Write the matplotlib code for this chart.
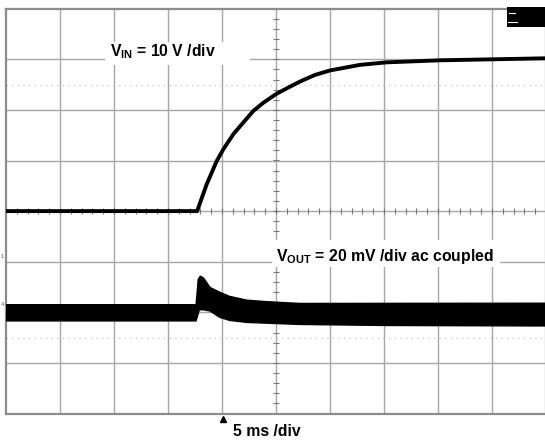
import numpy as np
import matplotlib
matplotlib.use("Agg")
import matplotlib.pyplot as plt
from matplotlib.patches import Rectangle

plt.rcParams['font.family'] = ['Liberation Sans', 'DejaVu Sans']
plt.rcParams['mathtext.fontset'] = 'custom'
plt.rcParams['mathtext.rm'] = 'Liberation Sans'
plt.rcParams['mathtext.bf'] = 'Liberation Sans:bold'

# scope settings
ms_per_div = 5.0
vin_per_div = 10.0      # V/div
vout_per_div = 20.0     # mV/div
vout_offset = -2.0      # div, channel 4 position

# VIN trace (ms, V)
vin_t = [0, 17.7, 18.58, 19.51, 20.12, 21.05, 21.97, 22.9, 23.82, 25.06,
         26.3, 27.22, 28.6, 30.0, 32.78, 35.25, 40.19, 45.09, 50.0]
vin_v = [0, 0, 5.3, 9.9, 12.2, 15.2, 17.5, 19.8, 21.4, 23.2,
         24.6, 25.6, 26.9, 27.8, 28.9, 29.4, 29.8, 30.0, 30.2]

# VOUT noise band envelopes (ms, mV)
vout_up_t = [0, 17.6, 17.8, 18.0, 18.3, 18.9, 19.8, 20.7, 22.3, 23.8, 25.4, 27.2, 50.0]
vout_up = [3.0, 3.0, 13.0, 14.3, 13.5, 9.8, 7.9, 6.3, 4.8, 4.3, 3.9, 3.5, 3.6]
vout_lo_t = [0, 17.6, 17.9, 18.3, 18.9, 19.8, 20.7, 22.3, 27.2, 35.0, 50.0]
vout_lo = [-3.4, -3.4, 1.0, 1.0, 0.5, -2.0, -3.2, -4.0, -4.8, -5.2, -5.4]

fig = plt.figure(figsize=(5.45, 4.43), dpi=100)
ax = fig.add_axes([6 / 545, 29.5 / 443, 540 / 545, 404.8 / 443])
ax.set_xlim(0, 10)
ax.set_ylim(-4, 4)
ax.set_xticks([])
ax.set_yticks([])

grid_c = '#a6a6a6'
for i in range(1, 10):
    ax.axvline(i, color=grid_c, lw=1.0, zorder=1)
for j in range(-3, 4):
    ax.axhline(j, color=grid_c, lw=1.0, zorder=1)
for s in ax.spines.values():
    s.set_color('#8c8c8c')
    s.set_linewidth(1.6)

# centre graticule ticks
minor = np.arange(0, 10.01, 0.2)
ax.vlines(minor, -0.055, 0.055, color='#777777', lw=0.8, zorder=1)
minor_y = np.arange(-4, 4.01, 0.2)
ax.hlines(minor_y, 5 - 0.055, 5 + 0.055, color='#777777', lw=0.8, zorder=1)

# dotted reference lines
for yy in (2.5, -2.5):
    ax.axhline(yy, color='#c4c4c4', lw=0.9, ls=(0, (1, 3.5)), zorder=1)

# label backgrounds
ax.add_patch(Rectangle((1.83, 2.88), 2.69, 0.47, facecolor='white', edgecolor='none', zorder=2))
ax.add_patch(Rectangle((4.93, -1.11), 4.22, 0.53, facecolor='white', edgecolor='none', zorder=2))

# traces
ax.plot(np.array(vin_t) / ms_per_div, np.array(vin_v) / vin_per_div,
        color='black', lw=2.8, solid_joinstyle='round', solid_capstyle='butt', zorder=4)

px = np.concatenate([vout_up_t, vout_lo_t[::-1]]) / ms_per_div
py = vout_offset + np.concatenate([vout_up, vout_lo[::-1]]) / vout_per_div
ax.fill(px, py, facecolor='black', edgecolor='black', lw=1.0, zorder=4)

ax.text(1.92, 3.05, r'$\mathbf{V_{IN}}$ = 10 V /div', fontsize=11.3,
        fontweight='bold', va='baseline', ha='left', zorder=5)
ax.text(5.0, -0.99, r'$\mathbf{V_{OUT}}$ = 20 mV /div ac coupled', fontsize=11.3,
        fontweight='bold', va='baseline', ha='left', zorder=5)

# status box top right
ax.add_patch(Rectangle((9.28, 3.63), 0.8, 0.4, facecolor='black', edgecolor='none',
                       zorder=5, clip_on=False))
ax.plot([9.31, 9.42], [3.92, 3.92], color='white', lw=0.8, zorder=6)
ax.plot([9.30, 9.46], [3.74, 3.74], color='white', lw=0.8, zorder=6)

# trigger marker and channel markers
ax.plot([4.01], [-0.0124], marker='^', color='black', markersize=4.5,
        transform=ax.get_xaxis_transform(), clip_on=False, zorder=6)
fig.text(0.5 / 545, 1 - 256 / 443, '1', fontsize=4, color='#555555', va='center')
fig.text(0.5 / 545, 1 - 305 / 443, '4', fontsize=4, color='#555555', va='center')

fig.text(233 / 545, 1 - 436 / 443, '5 ms /div', fontsize=11.3, fontweight='bold',
         ha='left', va='baseline')

fig.savefig('out.png', dpi=100)
